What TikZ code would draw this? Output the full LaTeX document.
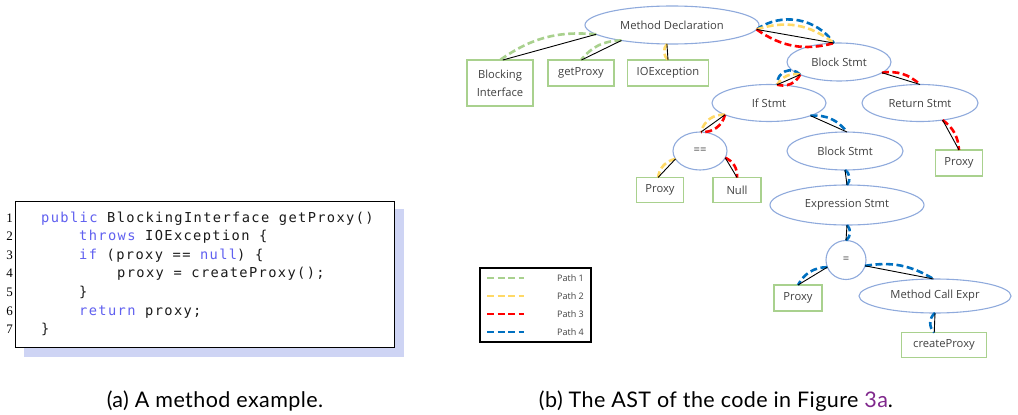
\documentclass[tikz,border=0pt]{standalone}
\usepackage{fontspec}
\setmainfont{Open Sans}
\newfontfamily\codefont[LetterSpace=10]{DejaVu Sans Mono}
\newfontfamily\capfont[LetterSpace=2]{Lato}
\newfontfamily\numfont{Liberation Serif}
\usetikzlibrary{shapes.geometric}
\definecolor{ellblue}{RGB}{143,170,220}
\definecolor{boxgreen}{RGB}{169,209,142}
\definecolor{pgreen}{RGB}{169,209,142}
\definecolor{pyellow}{RGB}{255,217,102}
\definecolor{pred}{RGB}{255,0,0}
\definecolor{pblue}{RGB}{0,112,192}
\definecolor{txtgray}{RGB}{64,64,64}
\definecolor{kw}{RGB}{96,96,240}
\definecolor{shadowc}{RGB}{206,212,244}
\definecolor{linkc}{RGB}{128,40,140}
\begin{document}
\begin{tikzpicture}[x=1pt,y=-1pt,
  ell/.style={ellipse,draw=ellblue,line width=1.1pt,inner sep=0pt,outer sep=0pt,text=txtgray,font=\fontsize{11.2}{13}\selectfont},
  leaf/.style={rectangle,draw=boxgreen,line width=1.1pt,inner sep=0pt,outer sep=0pt,text=txtgray,font=\fontsize{11.2}{18}\selectfont,align=center},
  tree/.style={draw=black,line width=0.9pt},
  pathbase/.style={line width=2.6pt,dash pattern=on 7pt off 3.5pt},
  pa/.style={pathbase,draw=pgreen},
  pb/.style={pathbase,draw=pyellow},
  pc/.style={pathbase,draw=pred},
  pd/.style={pathbase,draw=pblue},
  codeline/.style={anchor=base west,inner sep=0pt,text={rgb,255:red,26;green,26;blue,26},font=\codefont\fontsize{13.7}{16}\selectfont},
  lnum/.style={anchor=base east,inner sep=0pt,font=\numfont\fontsize{13}{15}\selectfont},
  legtxt/.style={anchor=east,inner sep=0pt,text=txtgray,font=\fontsize{9}{10}\selectfont},
  captxt/.style={anchor=base,inner sep=0pt,font=\capfont\fontsize{21.5}{25}\selectfont}
]
\useasboundingbox (0,0) rectangle (1018,415);

% ---------- code listing ----------
\fill[shadowc] (24,209) rectangle (404,357);
\filldraw[fill=white,draw=black,line width=1pt] (15,201) rectangle (394,347);
\node[lnum] (n1) at (13,222) {1};
\node[lnum] (n2) at (13,240.6) {2};
\node[lnum] (n3) at (13,259.2) {3};
\node[lnum] (n4) at (13,277.8) {4};
\node[lnum] (n5) at (13,296.4) {5};
\node[lnum] (n6) at (13,315) {6};
\node[lnum] (n7) at (13,333.6) {7};
\node[codeline] (c1) at (41,222) {\textcolor{kw}{public} BlockingInterface getProxy()};
\node[codeline] (c2) at (79,240.6) {\textcolor{kw}{throws} IOException \{};
\node[codeline] (c3) at (79,259.2) {\textcolor{kw}{if} (proxy == \textcolor{kw}{null}) \{};
\node[codeline] (c4) at (117,277.8) {proxy = createProxy();};
\node[codeline] (c5) at (79,296.4) {\}};
\node[codeline] (c6) at (79,315) {\textcolor{kw}{return} proxy;};
\node[codeline] (c7) at (41,333.6) {\}};

% ---------- AST nodes ----------
\node[ell,minimum width=174,minimum height=38] (md) at (672,25) {Method Declaration};
\node[ell,minimum width=104,minimum height=38] (bs1) at (839,62) {Block Stmt};
\node[ell,minimum width=114,minimum height=37] (ifs) at (769,103) {If Stmt};
\node[ell,minimum width=116,minimum height=37] (ret) at (920,103) {Return Stmt};
\node[ell,minimum width=54,minimum height=38] (eqeq) at (700,151) {==};
\node[ell,minimum width=116,minimum height=38] (bs2) at (845,151) {Block Stmt};
\node[ell,minimum width=154,minimum height=40] (es) at (847,205) {Expression Stmt};
\node[ell,minimum width=40,minimum height=39] (eq) at (846,260) {=};
\node[ell,minimum width=152,minimum height=34] (mce) at (935,296) {Method Call Expr};

\node[leaf,minimum width=66,minimum height=46] (bi) at (500,83) {Blocking\\Interface};
\node[leaf,minimum width=66,minimum height=26] (gp) at (581,73) {getProxy};
\node[leaf,minimum width=81,minimum height=26] (io) at (668,73) {IOException};
\node[leaf,minimum width=47,minimum height=25] (px1) at (660,190) {Proxy};
\node[leaf,minimum width=48,minimum height=25] (nl) at (737,190) {Null};
\node[leaf,minimum width=47,minimum height=26] (rp) at (959,163) {Proxy};
\node[leaf,minimum width=48,minimum height=26] (px2) at (798,298) {Proxy};
\node[leaf,minimum width=85,minimum height=25] (cp) at (944,345) {createProxy};

% ---------- paths (dashed arcs) ----------
\draw[pa] (md.187) to[bend right=20] (bi.north);
\draw[pa] (md.197) to[bend right=25] (gp.north);
\draw[pb] (md.255) to[bend right=45] (io.north);
\draw[pd] (md.-3) to[bend left=45] (bs1.105);
\draw[pb] (md.-3) to[bend left=28] (bs1.105);
\draw[pc] (md.-3) to[bend right=25] (bs1.105);
\draw[pd] (bs1.198) to[bend right=70,looseness=1.3] (ifs.66);
\draw[pb] (bs1.198) to[bend right=35] (ifs.66);
\draw[pc] (bs1.198) to[bend left=40] (ifs.66);
\draw[pc] (bs1.-14) to[bend left=25] (ret.90);
\draw[pb] (ifs.195) to[bend right=40] (eqeq.87);
\draw[pc] (ifs.195) to[bend left=40] (eqeq.87);
\draw[pd] (ifs.-17) to[bend left=28] (bs2.84);
\draw[pb] (eqeq.198) to[bend right=35] (px1.99);
\draw[pc] (eqeq.-15) to[bend left=35] (nl.north);
\draw[pc] (ret.-37) to[bend left=25] (rp.north);
\draw[pd] (bs2.south) to[bend left=50] (es.north);
\draw[pd] (es.south) to[bend left=50] (eq.north);
\draw[pd] (eq.201) to[bend right=30] (px2.north);
\draw[pd] (eq.-17) to[bend left=20] (mce.95);
\draw[pd] (mce.south) to[bend right=50] (cp.128);

% ---------- tree edges ----------
\draw[tree] (md.187) -- (bi.83);
\draw[tree] (md.197) -- (gp.88);
\draw[tree] (md.255) -- (io.north);
\draw[tree] (md.-3) -- (bs1.105);
\draw[tree] (bs1.198) -- (ifs.66);
\draw[tree] (bs1.-14) -- (ret.90);
\draw[tree] (ifs.195) -- (eqeq.87);
\draw[tree] (ifs.-17) -- (bs2.84);
\draw[tree] (eqeq.198) -- (px1.99);
\draw[tree] (eqeq.-15) -- (nl.north);
\draw[tree] (ret.-37) -- (rp.north);
\draw[tree] (bs2.south) -- (es.north);
\draw[tree] (es.south) -- (eq.north);
\draw[tree] (eq.201) -- (px2.north);
\draw[tree] (eq.-17) -- (mce.95);
\draw[tree] (mce.south) -- (cp.128);

% ---------- legend ----------
\draw[black,line width=1.3pt] (480,268) rectangle (591,342);
\coordinate (l1a) at (487,278); \coordinate (l1b) at (524,278);
\coordinate (l2a) at (487,296); \coordinate (l2b) at (524,296);
\coordinate (l3a) at (487,314); \coordinate (l3b) at (524,314);
\coordinate (l4a) at (487,332); \coordinate (l4b) at (524,332);
\draw[pa,line width=2.3pt] (l1a) -- (l1b);
\draw[pb,line width=2.3pt] (l2a) -- (l2b);
\draw[pc,line width=2.3pt] (l3a) -- (l3b);
\draw[pd,line width=2.3pt] (l4a) -- (l4b);
\node[legtxt] (t1) at (584,278) {Path 1};
\node[legtxt] (t2) at (584,296) {Path 2};
\node[legtxt] (t3) at (584,314) {Path 3};
\node[legtxt] (t4) at (584,332) {Path 4};

% ---------- captions ----------
\node[captxt] (capa) at (215,407) {(a) A method example.};
\node[captxt] (capb) at (716,407) {(b) The AST of the code in Figure \textcolor{linkc}{3a}.};
\end{tikzpicture}
\end{document}
